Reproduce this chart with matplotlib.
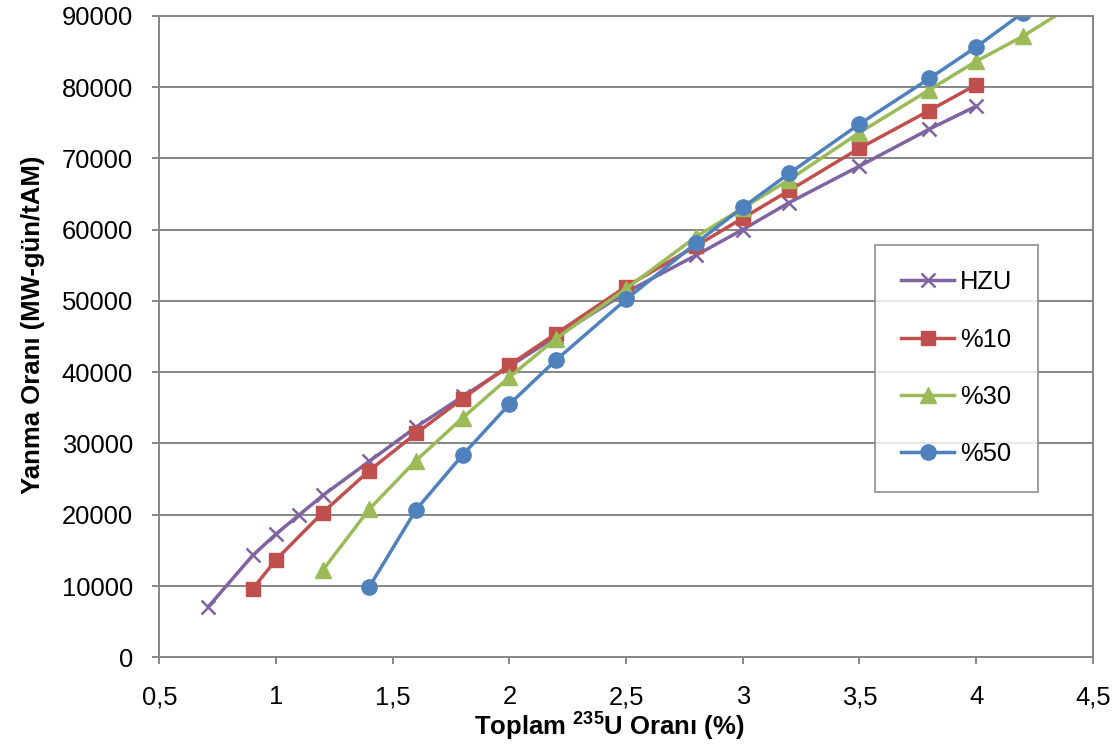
import matplotlib
matplotlib.use("Agg")
import matplotlib.pyplot as plt

# burnup vs total U-235 fraction
hzu_x = [0.71, 0.9, 1.0, 1.1, 1.2, 1.4, 1.6, 1.8, 2.0, 2.2, 2.5, 2.8, 3.0, 3.2, 3.5, 3.8, 4.0]
hzu_y = [7100, 14300, 17300, 20000, 22700, 27500, 32300, 36600, 40800, 45000, 51200, 56400, 60000, 63800, 68900, 74100, 77300]

p10_x = [0.9, 1.0, 1.2, 1.4, 1.6, 1.8, 2.0, 2.2, 2.5, 2.8, 3.0, 3.2, 3.5, 3.8, 4.0]
p10_y = [9600, 13700, 20300, 26200, 31400, 36300, 41000, 45400, 52000, 57700, 61600, 65500, 71400, 76700, 80300]

p30_x = [1.2, 1.4, 1.6, 1.8, 2.0, 2.2, 2.5, 2.8, 3.0, 3.2, 3.5, 3.8, 4.0, 4.2, 4.4]
p30_y = [12200, 20800, 27600, 33600, 39300, 44700, 51700, 59000, 63000, 67000, 73600, 79600, 83600, 87100, 91200]

p50_x = [1.4, 1.6, 1.8, 2.0, 2.2, 2.5, 2.8, 3.0, 3.2, 3.5, 3.8, 4.0, 4.2]
p50_y = [9900, 20700, 28400, 35500, 41700, 50200, 58100, 63100, 67900, 74800, 81200, 85600, 90400]

x_ticks = [0.5, 1, 1.5, 2, 2.5, 3, 3.5, 4, 4.5]
x_labels = ["0,5", "1", "1,5", "2", "2,5", "3", "3,5", "4", "4,5"]
y_ticks = list(range(0, 90001, 10000))

plt.rcParams["font.family"] = ["Liberation Sans", "DejaVu Sans"]
plt.rcParams["mathtext.fontset"] = "custom"
plt.rcParams["mathtext.bf"] = "Liberation Sans:bold"
plt.rcParams["mathtext.rm"] = "Liberation Sans:bold"

grey = "#868686"

fig = plt.figure(figsize=(11.19, 7.49), dpi=100)
ax = fig.add_axes([0.1424, 0.1224, 0.8341, 0.8566])

ax.plot(hzu_x, hzu_y, color="#8064A2", lw=2.5, marker="x", ms=10, mew=1.8, label="HZU")
ax.plot(p10_x, p10_y, color="#C0504D", lw=2.5, marker="s", ms=10, label="%10")
ax.plot(p30_x, p30_y, color="#9BBB59", lw=2.5, marker="^", ms=11, label="%30")
ax.plot(p50_x, p50_y, color="#4F81BD", lw=2.5, marker="o", ms=11, label="%50")

ax.set_xlim(0.5, 4.5)
ax.set_ylim(0, 90000)
ax.set_xticks(x_ticks)
ax.set_xticklabels(x_labels)
ax.set_yticks(y_ticks)
ax.yaxis.grid(True, color=grey, lw=1.4)
ax.set_axisbelow(True)
for s in ax.spines.values():
    s.set_color(grey)
    s.set_linewidth(1.4)
ax.tick_params(axis="both", direction="out", length=5, width=1.4, color=grey,
               labelsize=18.4)
ax.tick_params(axis="x", pad=15)
ax.tick_params(axis="y", pad=14)

ax.set_xlabel("Toplam $\\mathbf{^{235}}$U Oranı (%)", fontsize=18.5, fontweight="bold")
ax.set_ylabel("Yanma Oranı (MW-gün/tAM)", fontsize=18.5, fontweight="bold")
ax.xaxis.set_label_coords(0.482, -0.084)
ax.yaxis.set_label_coords(-0.123, 0.518)

leg = ax.legend(loc="upper left", bbox_to_anchor=(0.767, 0.643), fontsize=18.4,
                frameon=True, fancybox=False, edgecolor=grey, labelspacing=1.3,
                handlelength=2.1, handletextpad=0.22, borderpad=1.0, borderaxespad=0)
leg.get_frame().set_linewidth(1.4)

fig.savefig("out.png", dpi=100)
